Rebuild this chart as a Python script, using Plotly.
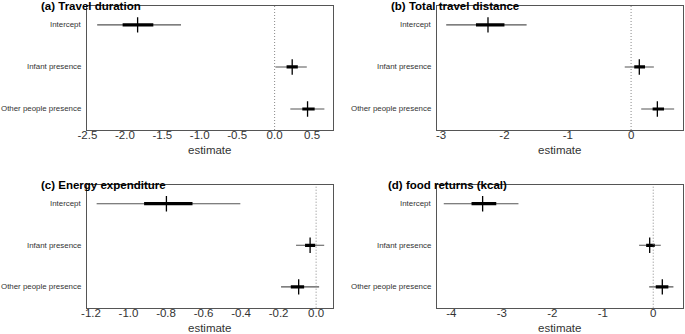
import plotly.graph_objects as go

W, H = 685, 334

terms = ["Intercept", "Infant presence", "Other people presence"]

# (a) Travel duration
a_est = [-1.83, 0.235, 0.44]
a_lo95 = [-2.37, 0.01, 0.21]
a_hi95 = [-1.25, 0.43, 0.665]
a_lo50 = [-2.03, 0.16, 0.37]
a_hi50 = [-1.62, 0.31, 0.535]

# (b) Total travel distance
b_est = [-2.26, 0.13, 0.415]
b_lo95 = [-2.92, -0.10, 0.16]
b_hi95 = [-1.65, 0.36, 0.68]
b_lo50 = [-2.45, 0.05, 0.34]
b_hi50 = [-2.00, 0.22, 0.52]

# (c) Energy expenditure
c_est = [-0.798, -0.032, -0.093]
c_lo95 = [-1.17, -0.107, -0.187]
c_hi95 = [-0.404, 0.043, 0.016]
c_lo50 = [-0.917, -0.059, -0.135]
c_hi50 = [-0.659, -0.005, -0.064]

# (d) food returns (kcal)
d_est = [-3.38, -0.07, 0.18]
d_lo95 = [-4.15, -0.28, -0.08]
d_hi95 = [-2.67, 0.15, 0.40]
d_lo50 = [-3.60, -0.14, 0.05]
d_hi50 = [-3.11, 0.03, 0.30]

titles = ["(a) Travel duration", "(b) Total travel distance",
          "(c) Energy expenditure", "(d) food returns (kcal)"]

a_ticks = [-2.5, -2.0, -1.5, -1.0, -0.5, 0.0, 0.5]
a_ticklabels = ["-2.5", "-2.0", "-1.5", "-1.0", "-0.5", "0.0", "0.5"]
b_ticks = [-3, -2, -1, 0]
b_ticklabels = ["-3", "-2", "-1", "0"]
c_ticks = [-1.2, -1.0, -0.8, -0.6, -0.4, -0.2, 0.0]
c_ticklabels = ["-1.2", "-1.0", "-0.8", "-0.6", "-0.4", "-0.2", "0.0"]
d_ticks = [-4, -3, -2, -1, 0]
d_ticklabels = ["-4", "-3", "-2", "-1", "0"]

panels = [
    dict(est=a_est, lo95=a_lo95, hi95=a_hi95, lo50=a_lo50, hi50=a_hi50,
         ticks=a_ticks, labels=a_ticklabels, xr=[-2.51, 0.78],
         px=(86.7, 333), py=(6, 130), title_x=39),
    dict(est=b_est, lo95=b_lo95, hi95=b_hi95, lo50=b_lo50, hi50=b_hi50,
         ticks=b_ticks, labels=b_ticklabels, xr=[-3.07, 0.82],
         px=(436.7, 683), py=(6, 130), title_x=389),
    dict(est=c_est, lo95=c_lo95, hi95=c_hi95, lo50=c_lo50, hi50=c_hi50,
         ticks=c_ticks, labels=c_ticklabels, xr=[-1.223, 0.09],
         px=(86.7, 333), py=(185, 307.7), title_x=39),
    dict(est=d_est, lo95=d_lo95, hi95=d_hi95, lo50=d_lo50, hi50=d_hi50,
         ticks=d_ticks, labels=d_ticklabels, xr=[-4.29, 0.59],
         px=(436.7, 683), py=(185, 307.7), title_x=386),
]

fig = go.Figure()
annotations = []
shapes = []
FONT = "Liberation Sans, Arial, sans-serif"

for k, p in enumerate(panels):
    n = "" if k == 0 else str(k + 1)
    xa, ya = "x" + n, "y" + n
    for i in range(len(terms)):
        fig.add_trace(go.Scatter(x=[p["lo95"][i], p["hi95"][i]], y=[i, i], mode="lines",
                                 line=dict(color="#555555", width=1.1),
                                 xaxis=xa, yaxis=ya, showlegend=False, hoverinfo="skip"))
        fig.add_trace(go.Scatter(x=[p["lo50"][i], p["hi50"][i]], y=[i, i], mode="lines",
                                 line=dict(color="#000000", width=3.2),
                                 xaxis=xa, yaxis=ya, showlegend=False, hoverinfo="skip"))
    fig.add_trace(go.Scatter(x=p["est"], y=list(range(len(terms))), mode="markers",
                             marker=dict(symbol="line-ns", size=11,
                                         line=dict(color="#000000", width=1.3)),
                             xaxis=xa, yaxis=ya, showlegend=False))
    x0, x1 = p["px"][0] / W, p["px"][1] / W
    y0, y1 = 1 - p["py"][1] / H, 1 - p["py"][0] / H
    fig.layout["xaxis" + n] = dict(
        domain=[x0, x1], range=p["xr"], anchor=ya, tickvals=p["ticks"],
        ticktext=p["labels"], showgrid=False, zeroline=False, showline=True,
        mirror=True, linecolor="#555555", linewidth=1, ticks="", automargin=False,
        ticklabelstandoff=-6,
        tickfont=dict(family=FONT, size=11.5, color="#333333"))
    fig.layout["yaxis" + n] = dict(
        domain=[y0, y1], range=[2.5, -0.45], anchor=xa, showticklabels=False,
        showgrid=False, zeroline=False, showline=True, mirror=True,
        linecolor="#555555", linewidth=1, ticks="", automargin=False)
    for i, t in enumerate(terms):
        annotations.append(dict(text=t, xref="paper", yref=ya, x=(p["px"][0] - 2.5) / W,
                                y=i, xanchor="right", yanchor="middle", showarrow=False,
                                font=dict(family=FONT, size=7.9, color="#333333")))
    shapes.append(dict(type="line", xref=xa, yref=ya + " domain", x0=0, x1=0, y0=0, y1=1,
                       line=dict(color="#888888", width=1, dash="1px,2px")))
    annotations.append(dict(text="<b>" + titles[k] + "</b>", xref="paper", yref="paper",
                            x=p["title_x"] / W, y=1 - p["py"][0] / H, xanchor="left",
                            yanchor="middle", showarrow=False,
                            font=dict(family=FONT, size=11.5, color="#000000")))
    annotations.append(dict(text="estimate", xref="paper", yref="paper",
                            x=(p["px"][0] + p["px"][1]) / 2 / W,
                            y=1 - (p["py"][1] + 20) / H, xanchor="center",
                            yanchor="middle", showarrow=False,
                            font=dict(family=FONT, size=11.5, color="#333333")))

fig.update_layout(width=W, height=H, margin=dict(l=0, r=0, t=0, b=0),
                  plot_bgcolor="white", paper_bgcolor="white",
                  annotations=annotations, shapes=shapes)

fig.write_html("out.html", config={"displayModeBar": False},
               post_script="document.body.style.margin='0';document.body.style.overflow='hidden';")
